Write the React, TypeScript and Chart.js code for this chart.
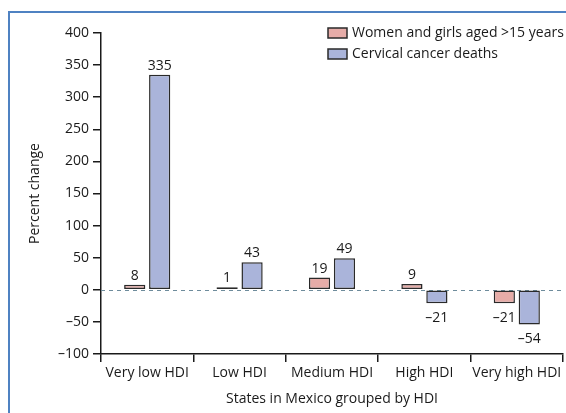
import React, { useEffect, useRef } from "react";
import { Chart, registerables } from "chart.js";

Chart.register(...registerables);

const categories = ["Very low HDI", "Low HDI", "Medium HDI", "High HDI", "Very high HDI"];
const womenValues = [8, 1, 19, 9, -21];
const deathValues = [335, 43, 49, -21, -54];
const seriesLabels = ["Women and girls aged >15 years", "Cervical cancer deaths"];
const yTicks = [400, 350, 300, 250, 200, 150, 100, 50, 0, -50, -100];

const FONT = "'Open Sans', sans-serif";
const PINK = "#e6aca8";
const BLUE = "#aab4da";
const EDGE = "#2a2a2a";

const framePlugin = {
  id: "frame",
  beforeDraw(chart: any) {
    const ctx = chart.ctx;
    ctx.save();
    ctx.fillStyle = "#ffffff";
    ctx.fillRect(0, 0, chart.width, chart.height);
    ctx.strokeStyle = "#4f82c2";
    ctx.lineWidth = 2;
    ctx.beginPath();
    ctx.moveTo(9, chart.height);
    ctx.lineTo(9, 12);
    ctx.lineTo(chart.width, 12);
    ctx.stroke();
    ctx.restore();
  },
};

const zeroLinePlugin = {
  id: "zeroLine",
  beforeDatasetsDraw(chart: any) {
    const ctx = chart.ctx;
    const y = Math.round(chart.scales.y.getPixelForValue(0)) + 0.5;
    const { left, right } = chart.chartArea;
    ctx.save();
    ctx.strokeStyle = "#6e8c9c";
    ctx.lineWidth = 1;
    ctx.setLineDash([4, 4]);
    ctx.beginPath();
    ctx.moveTo(left, y);
    ctx.lineTo(right, y);
    ctx.stroke();
    ctx.restore();
  },
};

const labelPlugin = {
  id: "valueLabels",
  afterDatasetsDraw(chart: any) {
    const ctx = chart.ctx;
    ctx.save();
    ctx.font = `14px ${FONT}`;
    ctx.fillStyle = "#1a1a1a";
    ctx.textAlign = "center";
    chart.data.datasets.forEach((ds: any, di: number) => {
      const meta = chart.getDatasetMeta(di);
      meta.data.forEach((bar: any, i: number) => {
        const v = ds.data[i];
        const txt = v < 0 ? "\u2013" + Math.abs(v) : String(v);
        if (v >= 0) {
          ctx.textBaseline = "bottom";
          ctx.fillText(txt, bar.x, bar.y - 2);
        } else {
          ctx.textBaseline = "top";
          ctx.fillText(txt, bar.x, bar.y + 8);
        }
      });
    });
    ctx.restore();
  },
};

const legendPlugin = {
  id: "customLegend",
  afterDraw(chart: any) {
    const ctx = chart.ctx;
    ctx.save();
    ctx.font = `14px ${FONT}`;
    ctx.textBaseline = "middle";
    ctx.textAlign = "left";
    chart.data.datasets.forEach((ds: any, i: number) => {
      const y = 28 + i * 21;
      ctx.fillStyle = ds.backgroundColor;
      ctx.fillRect(328, y, 19, 10);
      ctx.strokeStyle = EDGE;
      ctx.lineWidth = 1.5;
      ctx.strokeRect(328, y, 19, 10);
      ctx.fillStyle = "#1a1a1a";
      ctx.fillText(ds.label, 352, y + 5);
    });
    ctx.restore();
  },
};

export default function App() {
  const ref = useRef<HTMLCanvasElement>(null);
  useEffect(() => {
    if (!ref.current) return;
    const chart = new Chart(ref.current, {
      type: "bar",
      data: {
        labels: categories,
        datasets: [
          {
            label: seriesLabels[0],
            data: womenValues,
            backgroundColor: PINK,
            borderColor: EDGE,
            borderWidth: 1.5,
            borderSkipped: false,
            minBarLength: 2.5,
            categoryPercentage: 0.54,
            barPercentage: 0.85,
          },
          {
            label: seriesLabels[1],
            data: deathValues,
            backgroundColor: BLUE,
            borderColor: EDGE,
            borderWidth: 1.5,
            borderSkipped: false,
            minBarLength: 2.5,
            categoryPercentage: 0.54,
            barPercentage: 0.85,
          },
        ],
      },
      options: {
        animation: false,
        responsive: false,
        maintainAspectRatio: false,
        layout: { padding: { top: 33, right: 3, left: 0, bottom: 0 } },
        plugins: {
          legend: { display: false },
          tooltip: { enabled: false },
        },
        scales: {
          x: {
            offset: true,
            grid: {
              offset: true,
              drawOnChartArea: false,
              drawTicks: true,
              tickLength: 8,
              color: "#1a1a1a",
              lineWidth: 1.5,
            },
            border: { display: true, color: "#1a1a1a", width: 1.5 },
            ticks: {
              color: "#1a1a1a",
              font: { family: FONT, size: 14 },
              padding: 3,
              maxRotation: 0,
            },
            title: {
              display: true,
              text: "States in Mexico grouped by HDI",
              color: "#1a1a1a",
              font: { family: FONT, size: 14 },
              padding: { top: 0, bottom: 6 },
            },
            afterFit(scale: any) {
              scale.height = 59;
            },
          },
          y: {
            min: -100,
            max: 400,
            afterBuildTicks(scale: any) {
              scale.ticks = yTicks.map((v) => ({ value: v }));
            },
            grid: {
              drawOnChartArea: false,
              drawTicks: true,
              tickLength: 8,
              color: "#1a1a1a",
              lineWidth: 1.5,
            },
            border: { display: true, color: "#1a1a1a", width: 1.5 },
            ticks: {
              color: "#1a1a1a",
              font: { family: FONT, size: 14 },
              padding: 4,
              callback: (v: any) => (Number(v) < 0 ? "\u2013" + Math.abs(Number(v)) : String(v)),
            },
            title: {
              display: true,
              text: "Percent change",
              color: "#1a1a1a",
              font: { family: FONT, size: 14 },
              padding: { top: 27, bottom: 0 },
            },
            afterFit(scale: any) {
              scale.width = 101;
            },
          },
        },
      },
      plugins: [framePlugin, zeroLinePlugin, labelPlugin, legendPlugin],
    });
    return () => chart.destroy();
  }, []);
  return (
    <div style={{ position: "absolute", left: 0, top: 0, width: 566, height: 413 }}>
      <canvas ref={ref} width={566} height={413} style={{ width: 566, height: 413 }} />
    </div>
  );
}
